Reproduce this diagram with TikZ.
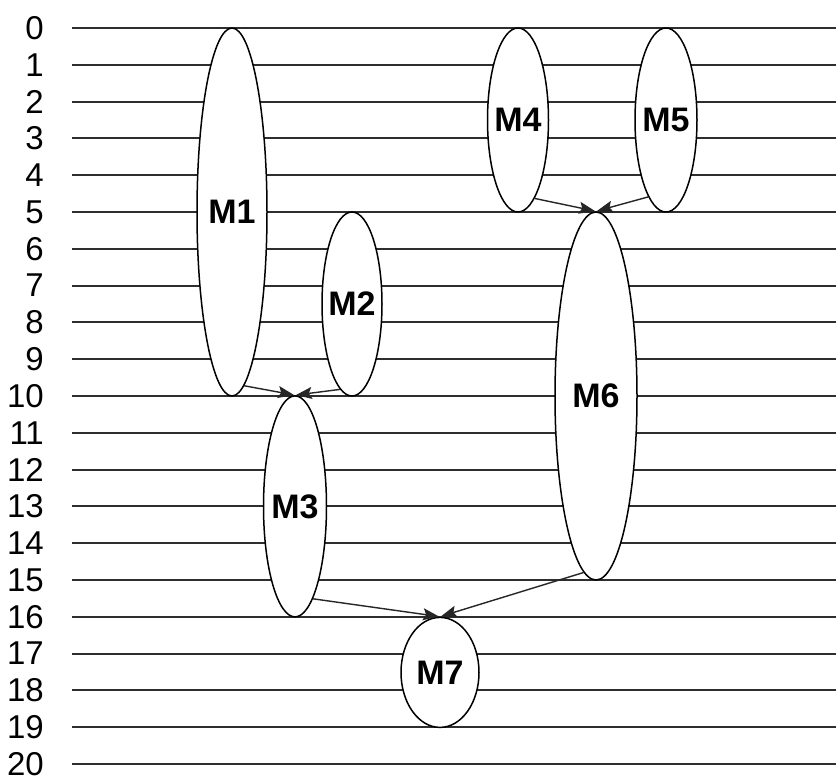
\documentclass[tikz,border=0pt]{standalone}
\usepackage{fontspec}
\setmainfont{Liberation Sans}
\usetikzlibrary{shapes.geometric,arrows.meta}

\begin{document}
\begin{tikzpicture}[x=1pt,y=-1pt,
  rowline/.style={line width=2.1pt,draw=black!82},
  rowlabel/.style={anchor=east,inner sep=0pt,font=\fontsize{33}{33}\selectfont},
  mach/.style={ellipse,draw=black,line width=1.5pt,fill=white,inner sep=0pt,
    label={[font=\fontsize{34}{34}\selectfont\bfseries]center:#1}},
  dep/.style={draw=black!85,line width=1.4pt,
    -{Stealth[length=16pt,width=12pt,inset=3pt]},shorten >=1pt}
]
\useasboundingbox (0,0) rectangle (836,776);
\fill[white] (0,0) rectangle (836,776);

% time grid: one line per step, rows 0..20
\foreach \r in {0,...,20}{
  \pgfmathsetmacro{\yy}{28+36.8*\r}
  \draw[rowline] (72,\yy) -- (836,\yy);
  \node[rowlabel] (t\r) at (44,\yy) {\r};
}

% tasks: height spans their time interval
\node[mach=M1, minimum width=70pt, minimum height=368pt] (M1) at (232,212) {};
\node[mach=M2, minimum width=60pt, minimum height=184pt] (M2) at (352,304) {};
\node[mach=M3, minimum width=63pt, minimum height=221pt] (M3) at (295,506.4) {};
\node[mach=M4, minimum width=61pt, minimum height=184pt] (M4) at (518,120) {};
\node[mach=M5, minimum width=62pt, minimum height=184pt] (M5) at (666,120) {};
\node[mach=M6, minimum width=82pt, minimum height=368pt] (M6) at (596,396) {};
\node[mach=M7, minimum width=78pt, minimum height=110pt] (M7) at (440,672.4) {};

% dependencies
\draw[dep] (M1.-86) -- (M3.north);
\draw[dep] (M2.-98) -- (M3.north);
\draw[dep] (M4.-78) -- (M6.north);
\draw[dep] (M5.-103) -- (M6.north);
\draw[dep] (M3.-79) -- (M7.north);
\draw[dep] (M6.-94) -- (M7.north);
\end{tikzpicture}
\end{document}
